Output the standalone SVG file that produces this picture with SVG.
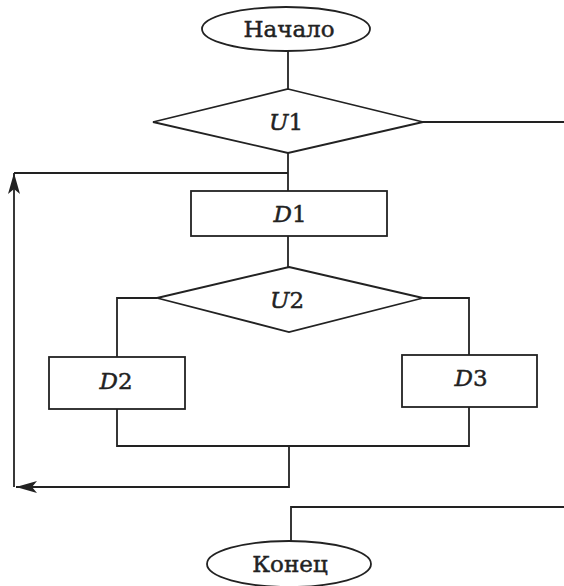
<svg xmlns="http://www.w3.org/2000/svg" width="564" height="586" viewBox="0 0 564 586">
<defs>
<style>
.s{fill:#fff;stroke:#222;stroke-width:1.8}
.c{fill:none;stroke:#222;stroke-width:1.8}
.t{font-family:"DejaVu Serif","Liberation Serif",serif;font-size:23px;fill:#222;stroke:#222;stroke-width:0.45;text-anchor:middle}
.i{font-style:italic}
</style>
<marker id="ah" markerWidth="24" markerHeight="14" refX="21" refY="7" orient="auto" markerUnits="userSpaceOnUse">
<path d="M0,1 L21,7 L0,13 L5,7 Z" fill="#222"/>
</marker>
</defs>
<rect width="564" height="586" fill="#fff"/>
<g id="connectors">
<path class="c" d="M288,51 V89"/>
<path class="c" d="M423,122 H564"/>
<path class="c" d="M288,153 V191"/>
<path class="c" d="M288,236 V267"/>
<path class="c" d="M157,298 H117 V357"/>
<path class="c" d="M423,298 H469 V355"/>
<path class="c" d="M117,409 V446 H469 V407"/>
<path class="c" d="M289,446 V487 H16" marker-end="url(#ah)"/>
<path class="c" d="M14,487 V173" marker-end="url(#ah)"/>
<path class="c" d="M14,173 H288"/>
<path class="c" d="M564,507 H291 V541"/>
</g>
<g id="start">
<ellipse class="s" cx="286" cy="29" rx="84" ry="22"/>
<text class="t" x="289" y="37">Начало</text>
</g>
<g id="U1">
<polygon class="s" points="288,89 423,122 288,153 153,122"/>
<text class="t" x="286" y="130"><tspan class="i">U</tspan>1</text>
</g>
<g id="D1">
<rect class="s" x="191" y="191" width="196" height="45"/>
<text class="t" x="290" y="222"><tspan class="i">D</tspan>1</text>
</g>
<g id="U2">
<polygon class="s" points="289,267 423,298 289,332 157,298"/>
<text class="t" x="287" y="308"><tspan class="i">U</tspan>2</text>
</g>
<g id="D2">
<rect class="s" x="49" y="357" width="136" height="52"/>
<text class="t" x="116" y="389"><tspan class="i">D</tspan>2</text>
</g>
<g id="D3">
<rect class="s" x="402" y="355" width="135" height="52"/>
<text class="t" x="471" y="386"><tspan class="i">D</tspan>3</text>
</g>
<g id="end">
<ellipse class="s" cx="289" cy="564" rx="82" ry="23"/>
<text class="t" x="290" y="572">Конец</text>
</g>
</svg>
